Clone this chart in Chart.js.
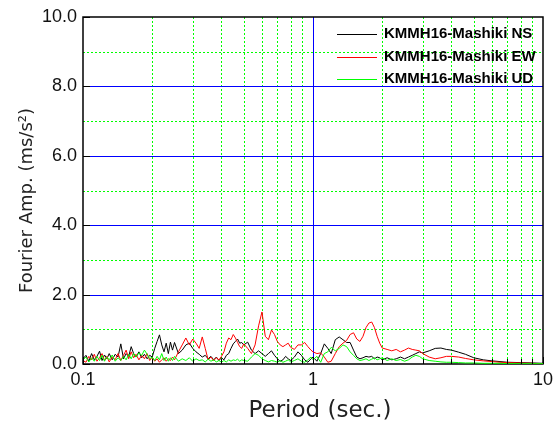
<!DOCTYPE html>
<html>
<head>
<meta charset="utf-8">
<script src="https://cdn.jsdelivr.net/npm/chart.js@4/dist/chart.umd.min.js"></script>
<style>
  html, body { margin: 0; padding: 0; background: #ffffff; }
  #wrap { width: 560px; height: 430px; }
</style>
</head>
<body>
<div id="wrap"><canvas id="c" width="560" height="430"></canvas></div>
<script>
// Period axis samples (sec.)
const periods = [
  0.100, 0.103, 0.106, 0.109, 0.112, 0.115, 0.118, 0.121, 0.124, 0.127,
  0.130, 0.134, 0.138, 0.142, 0.146, 0.150, 0.154, 0.158, 0.162, 0.166,
  0.170, 0.175, 0.180, 0.185, 0.190, 0.195, 0.200, 0.205, 0.210, 0.215,
  0.220, 0.225, 0.230, 0.235, 0.240, 0.245, 0.250, 0.260, 0.270, 0.280,
  0.290, 0.300, 0.310, 0.320, 0.330, 0.340, 0.350, 0.360, 0.370, 0.380,
  0.390, 0.400, 0.410, 0.420, 0.430, 0.440, 0.450, 0.460, 0.470, 0.480,
  0.490, 0.500, 0.52, 0.54, 0.56, 0.58, 0.60, 0.62, 0.64, 0.66,
  0.68, 0.70, 0.72, 0.74, 0.76, 0.78, 0.80, 0.83, 0.86, 0.89,
  0.92, 0.95, 0.98, 1.00, 1.04, 1.08, 1.12, 1.16, 1.20, 1.25,
  1.30, 1.35, 1.40, 1.45, 1.50, 1.55, 1.60, 1.65, 1.70, 1.75,
  1.80, 1.85, 1.90, 1.95, 2.00, 2.1, 2.2, 2.3, 2.4, 2.5,
  2.6, 2.7, 2.8, 2.9, 3.0, 3.2, 3.4, 3.6, 3.8, 4.0,
  4.3, 4.6, 5.0, 5.5, 6.0, 6.5, 7.0, 8.0, 9.0, 10.0
];

// Fourier amplitude, NS component
const ampNS = [
  0.15, 0.25, 0.08, 0.30, 0.12, 0.22, 0.37, 0.10, 0.26, 0.15,
  0.30, 0.12, 0.28, 0.20, 0.58, 0.15, 0.30, 0.22, 0.50, 0.30,
  0.20, 0.35, 0.18, 0.28, 0.15, 0.25, 0.20, 0.45, 0.65, 0.84,
  0.55, 0.35, 0.60, 0.30, 0.63, 0.40, 0.62, 0.30, 0.40, 0.55,
  0.60, 0.45, 0.35, 0.28, 0.20, 0.25, 0.15, 0.22, 0.12, 0.20,
  0.10, 0.18, 0.12, 0.25, 0.30, 0.45, 0.58, 0.65, 0.72, 0.60,
  0.62, 0.55, 0.63, 0.40, 0.30, 0.38, 0.30, 0.22, 0.30, 0.38,
  0.25, 0.15, 0.08, 0.12, 0.22, 0.15, 0.10, 0.20, 0.35, 0.25,
  0.12, 0.05, 0.15, 0.20, 0.08, 0.30, 0.58, 0.45, 0.30, 0.70,
  0.78, 0.70, 0.62, 0.62, 0.40, 0.20, 0.15, 0.18, 0.22, 0.20,
  0.22, 0.15, 0.20, 0.18, 0.12, 0.18, 0.12, 0.15, 0.20, 0.15,
  0.20, 0.25, 0.30, 0.35, 0.32, 0.38, 0.45, 0.46, 0.42, 0.40,
  0.34, 0.28, 0.18, 0.12, 0.09, 0.07, 0.05, 0.04, 0.03, 0.02
];

// Fourier amplitude, EW component
const ampEW = [
  0.10, 0.05, 0.22, 0.12, 0.28, 0.08, 0.18, 0.30, 0.10, 0.22,
  0.06, 0.20, 0.12, 0.30, 0.10, 0.25, 0.40, 0.15, 0.35, 0.18,
  0.28, 0.12, 0.25, 0.15, 0.30, 0.10, 0.20, 0.08, 0.15, 0.05,
  0.12, 0.18, 0.08, 0.15, 0.10, 0.20, 0.12, 0.35, 0.55, 0.75,
  0.55, 0.72, 0.60, 0.45, 0.78, 0.45, 0.12, 0.20, 0.10, 0.18,
  0.12, 0.22, 0.35, 0.60, 0.75, 0.70, 0.85, 0.75, 0.62, 0.50,
  0.45, 0.58, 0.45, 0.30, 0.55, 1.10, 1.50, 0.80, 0.70, 0.98,
  0.85, 0.65, 0.55, 0.50, 0.55, 0.60, 0.48, 0.42, 0.55, 0.55,
  0.62, 0.50, 0.40, 0.35, 0.30, 0.32, 0.20, 0.05, 0.08, 0.30,
  0.50, 0.60, 0.68, 0.85, 0.90, 0.72, 0.65, 0.80, 1.05, 1.18,
  1.21, 1.05, 0.80, 0.60, 0.46, 0.42, 0.38, 0.42, 0.35, 0.40,
  0.46, 0.42, 0.40, 0.38, 0.30, 0.20, 0.15, 0.18, 0.22, 0.22,
  0.20, 0.16, 0.12, 0.09, 0.07, 0.05, 0.04, 0.03, 0.02, 0.01
];

// Fourier amplitude, UD component
const ampUD = [
  0.12, 0.20, 0.06, 0.18, 0.08, 0.22, 0.10, 0.25, 0.08, 0.20,
  0.12, 0.26, 0.08, 0.18, 0.10, 0.22, 0.12, 0.28, 0.15, 0.30,
  0.20, 0.32, 0.25, 0.40, 0.28, 0.15, 0.20, 0.10, 0.22, 0.12,
  0.30, 0.10, 0.20, 0.08, 0.18, 0.10, 0.22, 0.08, 0.15, 0.10,
  0.18, 0.08, 0.15, 0.10, 0.12, 0.06, 0.14, 0.08, 0.12, 0.06,
  0.10, 0.05, 0.10, 0.06, 0.12, 0.08, 0.12, 0.10, 0.14, 0.08,
  0.12, 0.10, 0.08, 0.20, 0.30, 0.25, 0.15, 0.10, 0.06, 0.10,
  0.08, 0.05, 0.10, 0.05, 0.08, 0.12, 0.06, 0.10, 0.15, 0.08,
  0.05, 0.12, 0.20, 0.12, 0.22, 0.05, 0.30, 0.35, 0.48, 0.38,
  0.45, 0.55, 0.50, 0.35, 0.25, 0.15, 0.10, 0.12, 0.15, 0.10,
  0.14, 0.18, 0.12, 0.15, 0.18, 0.10, 0.15, 0.10, 0.13, 0.08,
  0.12, 0.20, 0.25, 0.22, 0.15, 0.10, 0.08, 0.06, 0.05, 0.05,
  0.04, 0.03, 0.03, 0.02, 0.02, 0.02, 0.01, 0.01, 0.01, 0.01
];

const seriesLabels = ['KMMH16-Mashiki NS', 'KMMH16-Mashiki EW', 'KMMH16-Mashiki UD'];
const seriesColors = ['#000000', '#ff0000', '#00ff00'];

// Period grid positions (decades with their minor steps) and labelled ones
const periodTicks = [0.1, 0.2, 0.3, 0.4, 0.5, 0.6, 0.7, 0.8, 0.9,
                     1, 2, 3, 4, 5, 6, 7, 8, 9, 10];
const periodLabels = ['0.1', '1', '10'];
// Amplitude grid positions; even ones carry a label
const ampTicks = [0, 1, 2, 3, 4, 5, 6, 7, 8, 9, 10];

const xTitle = 'Period (sec.)';
const yTitle = 'Fourier Amp. (ms/s²)';

const toPoints = arr => periods.map((p, i) => ({ x: p, y: arr[i] }));
const amps = [ampNS, ampEW, ampUD];

const datasets = seriesLabels.map((label, i) => ({
  label,
  data: toPoints(amps[i]),
  borderColor: seriesColors[i],
  backgroundColor: seriesColors[i],
  borderWidth: 1,
  pointRadius: 0,
  tension: 0,
  order: 2 - i
}));

const GREEN_GRID = '#00ff00';
const BLUE_GRID = '#0000ff';

const crisp = v => Math.round(v) + 0.5;

// Blue major / green dotted minor grid and the black plot frame
const plotGrid = {
  id: 'plotGrid',
  beforeDatasetsDraw(chart) {
    const { ctx, chartArea: a, scales } = chart;
    ctx.save();
    ctx.lineWidth = 1;
    periodTicks.forEach(v => {
      if (v === 0.1 || v === 10) return;
      const x = crisp(scales.x.getPixelForValue(v));
      const major = v === 1;
      ctx.strokeStyle = major ? BLUE_GRID : GREEN_GRID;
      ctx.setLineDash(major ? [] : [2, 2]);
      ctx.beginPath();
      ctx.moveTo(x, a.top);
      ctx.lineTo(x, a.bottom);
      ctx.stroke();
    });
    ampTicks.forEach(v => {
      if (v === 0 || v === 10) return;
      const y = crisp(scales.y.getPixelForValue(v));
      const major = v % 2 === 0;
      ctx.strokeStyle = major ? BLUE_GRID : GREEN_GRID;
      ctx.setLineDash(major ? [] : [2, 2]);
      ctx.beginPath();
      ctx.moveTo(a.left, y);
      ctx.lineTo(a.right, y);
      ctx.stroke();
    });
    ctx.setLineDash([]);
    ctx.strokeStyle = '#000';
    ctx.lineWidth = 1.5;
    ctx.strokeRect(a.left, a.top, a.right - a.left, a.bottom - a.top);
    ctx.restore();
  },
  afterDraw(chart) {
    const { ctx, chartArea: a, scales } = chart;
    ctx.save();
    ctx.strokeStyle = '#000';
    ctx.lineWidth = 1;
    // inward ticks on the period axis
    periodTicks.forEach(v => {
      const x = crisp(scales.x.getPixelForValue(v));
      const len = periodLabels.includes(String(v)) ? 7 : 5;
      ctx.beginPath();
      ctx.moveTo(x, a.bottom);
      ctx.lineTo(x, a.bottom - len);
      ctx.stroke();
    });
    // inward ticks on the amplitude axis at labelled values
    ampTicks.forEach(v => {
      if (v % 2 !== 0) return;
      const y = crisp(scales.y.getPixelForValue(v));
      ctx.beginPath();
      ctx.moveTo(a.left, y);
      ctx.lineTo(a.left + 7, y);
      ctx.stroke();
    });

    // axis titles
    ctx.fillStyle = '#222';
    ctx.textAlign = 'center';
    ctx.textBaseline = 'middle';
    ctx.font = '23px "DejaVu Sans"';
    ctx.fillText(xTitle, (a.left + a.right) / 2 + 7, a.bottom + 47);
    ctx.save();
    ctx.translate(27, (a.top + a.bottom) / 2 + 10);
    ctx.rotate(-Math.PI / 2);
    ctx.font = '18px "DejaVu Sans"';
    ctx.fillText(yTitle, 0, 0);
    ctx.restore();

    // legend inside the plot, top right
    ctx.font = 'bold 15px "Liberation Sans", Arial, sans-serif';
    ctx.textAlign = 'left';
    ctx.fillStyle = '#000';
    chart.data.datasets.forEach((ds, i) => {
      const y = a.top + 17 + i * 22.5;
      ctx.strokeStyle = ds.borderColor;
      ctx.lineWidth = 1;
      ctx.beginPath();
      ctx.moveTo(a.right - 206, crisp(y));
      ctx.lineTo(a.right - 166, crisp(y));
      ctx.stroke();
      ctx.fillText(ds.label, a.right - 159, y);
    });
    ctx.restore();
  }
};

new Chart(document.getElementById('c'), {
  type: 'line',
  data: { datasets },
  options: {
    responsive: false,
    animation: false,
    layout: { padding: { top: 17, right: 17, left: 0, bottom: 0 } },
    plugins: { legend: { display: false }, tooltip: { enabled: false } },
    scales: {
      x: {
        type: 'logarithmic',
        min: 0.1,
        max: 10,
        afterBuildTicks(scale) {
          scale.ticks = periodTicks.map(v => ({ value: v }));
        },
        afterFit(scale) { scale.height = 66; },
        ticks: {
          autoSkip: false,
          maxRotation: 0,
          padding: 5,
          color: '#111',
          font: { family: '"Liberation Sans", Arial, sans-serif', size: 18 },
          callback(value) {
            const s = String(value);
            return periodLabels.includes(s) ? s : '';
          }
        },
        grid: { display: false, drawTicks: false },
        border: { display: false }
      },
      y: {
        min: 0,
        max: 10,
        afterBuildTicks(scale) {
          scale.ticks = ampTicks.map(v => ({ value: v }));
        },
        afterFit(scale) { scale.width = 83; },
        ticks: {
          padding: 6,
          color: '#111',
          font: { family: '"Liberation Sans", Arial, sans-serif', size: 18 },
          callback(value) {
            return value % 2 === 0 ? value.toFixed(1) : '';
          }
        },
        grid: { display: false, drawTicks: false },
        border: { display: false }
      }
    }
  },
  plugins: [plotGrid]
});
</script>
</body>
</html>
